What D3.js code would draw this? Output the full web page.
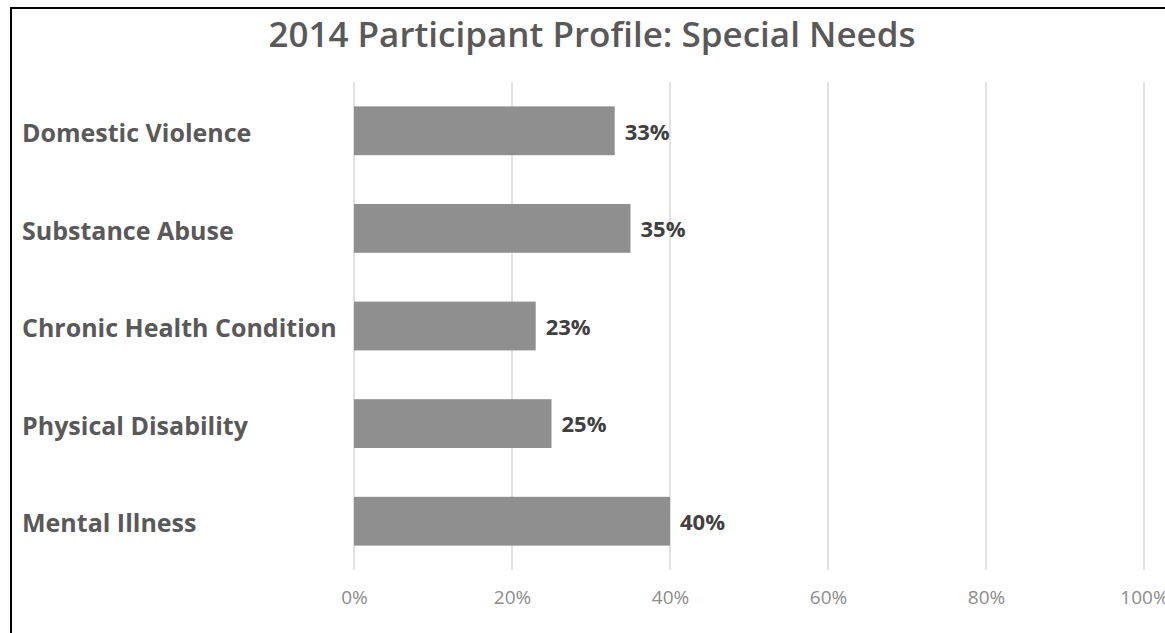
<!DOCTYPE html>
<html><head><meta charset="utf-8">
<script src="https://cdn.jsdelivr.net/npm/d3@7"></script>
<style>body{margin:0;background:#fff;}svg{display:block;}</style>
</head><body>
<svg id="c" width="1165" height="633"></svg>
<script>
const title = "2014 Participant Profile: Special Needs";
const categories = ["Domestic Violence","Substance Abuse","Chronic Health Condition","Physical Disability","Mental Illness"];
const values = [33,35,23,25,40];
const tickValues = [0,20,40,60,80,100];

const svg = d3.select("#c");
const font = "'Open Sans', sans-serif";

// border
svg.append("rect").attr("x",0).attr("y",0).attr("width",1165).attr("height",633).attr("fill","#fff");
svg.append("line").attr("x1",11).attr("x2",11).attr("y1",7).attr("y2",633).attr("stroke","#000").attr("stroke-width",2);
svg.append("line").attr("x1",10).attr("x2",1165).attr("y1",8).attr("y2",8).attr("stroke","#000").attr("stroke-width",2);

const x = d3.scaleLinear().domain([0,100]).range([354,1144]);
const y = d3.scaleBand().domain(categories).range([82,570]).paddingInner(0.5).paddingOuter(0.25);

// gridlines
svg.append("g").selectAll("line").data(tickValues).join("line")
  .attr("x1",d=>x(d)).attr("x2",d=>x(d)).attr("y1",82).attr("y2",570)
  .attr("stroke","#d9d9d9").attr("stroke-width",1.5);

// bars
svg.append("g").selectAll("rect").data(categories).join("rect")
  .attr("x",x(0)).attr("y",d=>y(d)).attr("width",(d,i)=>x(values[i])-x(0)).attr("height",y.bandwidth())
  .attr("fill","#8f8f8f");

// value labels
svg.append("g").selectAll("text").data(categories).join("text")
  .attr("x",(d,i)=>x(values[i])+10).attr("y",d=>y(d)+y.bandwidth()/2)
  .attr("dy","0.4em").attr("font-family",font).attr("font-weight",700).attr("font-size",22)
  .attr("fill","#404040").text((d,i)=>values[i]+"%");

// category labels
svg.append("g").selectAll("text").data(categories).join("text")
  .attr("x",22).attr("y",d=>y(d)+y.bandwidth()/2)
  .attr("dy","0.45em").attr("font-family",font).attr("font-weight",700).attr("font-size",25)
  .attr("fill","#595959").text(d=>d);

// x axis tick labels
const xAxis = d3.axisBottom(x).tickValues(tickValues).tickFormat(d=>d+"%").tickSize(0).tickPadding(0);
const ax = svg.append("g").attr("transform","translate(0,590)").call(xAxis);
ax.select(".domain").remove();
ax.selectAll("text").attr("font-family",font).attr("font-size",19).attr("fill","#8c8c8c");

// title
svg.append("text").attr("x",592).attr("y",47).attr("text-anchor","middle")
  .attr("font-family",font).attr("font-weight",600).attr("font-size",35).attr("fill","#595959").text(title);
</script>
</body></html>
